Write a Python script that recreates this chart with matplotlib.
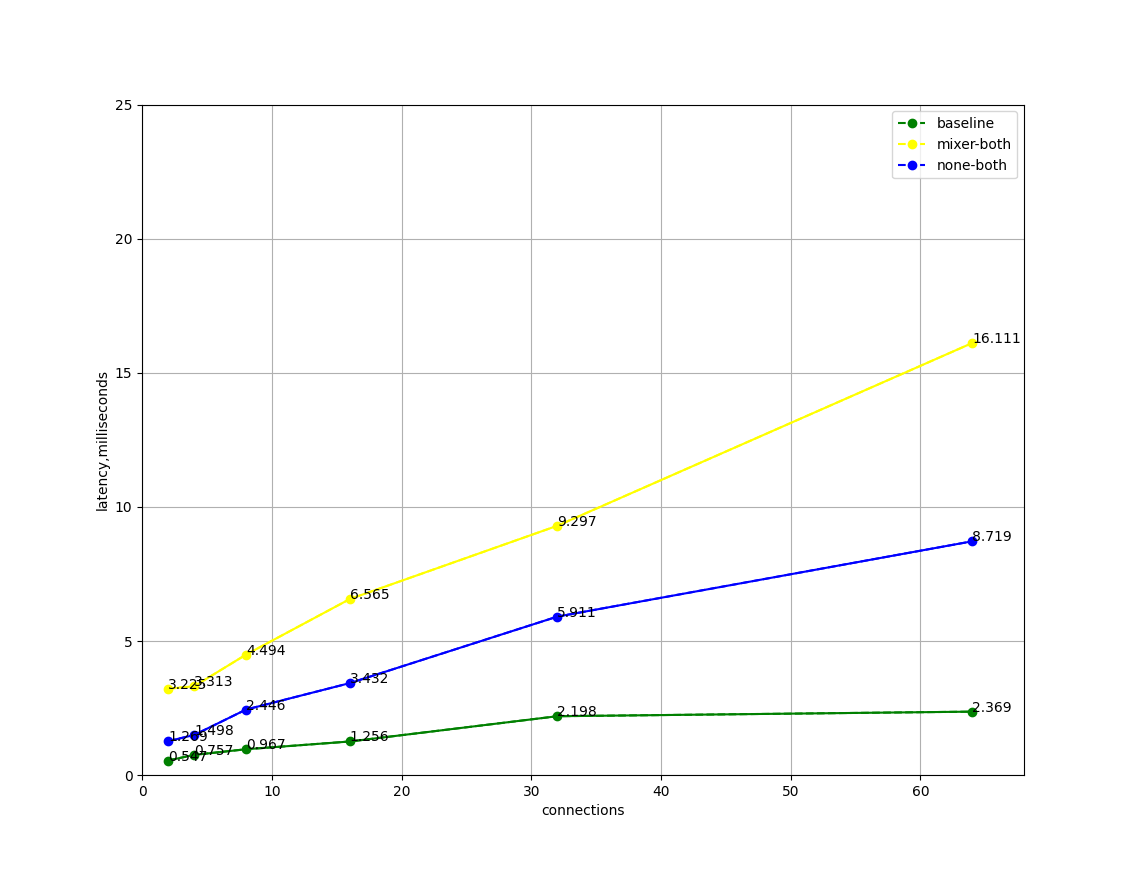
import matplotlib
matplotlib.use("Agg")
import matplotlib.pyplot as plt

connections = [2, 4, 8, 16, 32, 64]
baseline = [0.547, 0.757, 0.967, 1.256, 2.198, 2.369]
mixer_both = [3.225, 3.313, 4.494, 6.565, 9.297, 16.111]
none_both = [1.269, 1.498, 2.446, 3.432, 5.911, 8.719]

series = [("baseline", baseline, "green"), ("mixer-both", mixer_both, "yellow"), ("none-both", none_both, "blue")]

fig, ax = plt.subplots(figsize=(11.38, 8.71), dpi=100)
for name, vals, c in series:
    ax.plot(connections, vals, "--o", color=c, label=name)
    ax.plot(connections, vals, "-", color=c)
    for x, y in zip(connections, vals):
        ax.text(x, y, f"{y}")
ax.set_xlim(0, 68)
ax.set_ylim(0, 25)
ax.set_xlabel("connections")
ax.set_ylabel("latency,milliseconds")
ax.grid(True)
ax.legend(loc="upper right")
fig.savefig("out.png", dpi=100)
